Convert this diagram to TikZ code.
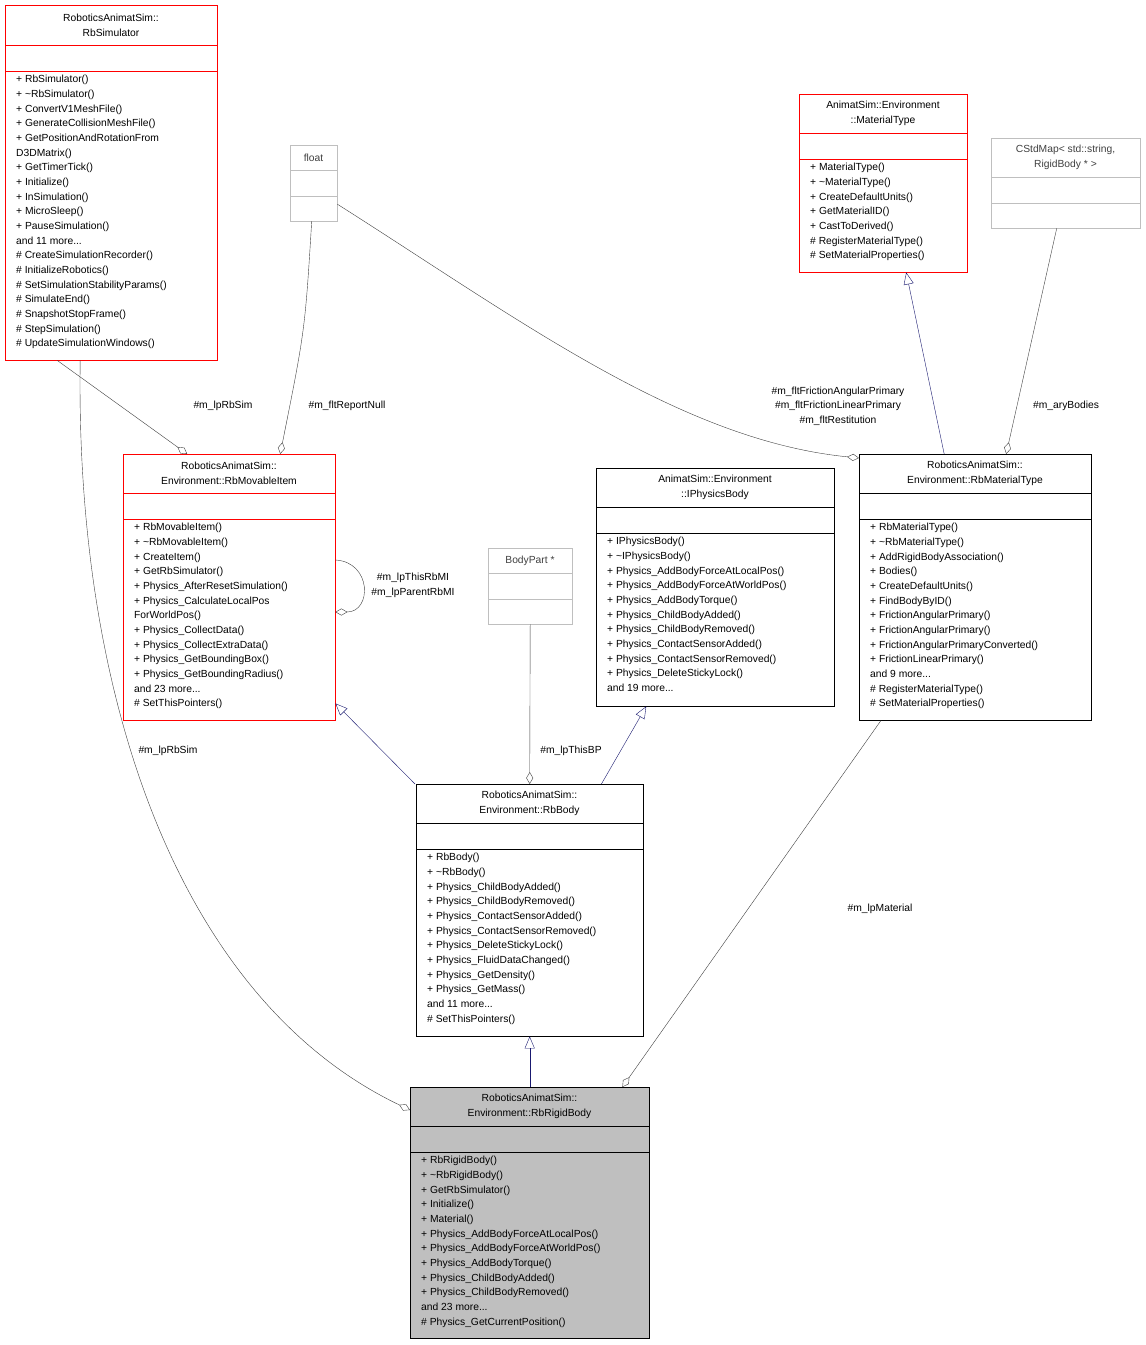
\documentclass[tikz,border=0pt]{standalone}
\usepackage{fontspec}
\setmainfont{Liberation Sans}
\usetikzlibrary{arrows.meta}
\definecolor{ln}{HTML}{404040}
\definecolor{nv}{HTML}{191970}
\tikzset{
 red/.style={draw=red},
 blk/.style={draw=black},
 gry/.style={draw=gray!50},
 grf/.style={draw=black,fill=gray!50},
 txt/.style={font=\fontsize{10.3}{14.67}\selectfont,inner sep=0pt},
 assoc/.style={draw=ln,-{Diamond[open,length=12pt,width=7pt]}},
 inh/.style={draw=nv,-{Triangle[open,length=12pt,width=10pt]}},
 lab/.style={txt,align=center,text=black},
}
\newcommand\cls[9]{%
 \node[#7,anchor=north west,inner sep=0pt,minimum width={(#4-#2)*1pt},minimum height={(#5-#3)*1pt}] (#1) at (#2,#3) {};
 \draw[#7] (#2,#6)--(#4,#6);
 \draw[#7] (#2,{#6+26})--(#4,{#6+26});
 \node[txt,align=center] at ({(#2+#4)/2},{(#3+#6)/2}) {#8};
 \node[txt,align=left,anchor=north west] at ({#2+11},{#6+26+4}) {#9};
}
\begin{document}
\begin{tikzpicture}[x=1pt,y=-1pt]
\useasboundingbox[fill=white] (0,0) rectangle (1146,1345);
\cls{sim}{5}{5}{217}{360}{45}{red}{RoboticsAnimatSim::\\RbSimulator}{+ RbSimulator()\\+ \textasciitilde RbSimulator()\\+ ConvertV1MeshFile()\\+ GenerateCollisionMeshFile()\\+ GetPositionAndRotationFrom\\D3DMatrix()\\+ GetTimerTick()\\+ Initialize()\\+ InSimulation()\\+ MicroSleep()\\+ PauseSimulation()\\and 11 more...\\\# CreateSimulationRecorder()\\\# InitializeRobotics()\\\# SetSimulationStabilityParams()\\\# SimulateEnd()\\\# SnapshotStopFrame()\\\# StepSimulation()\\\# UpdateSimulationWindows()}
\cls{flt}{290}{145}{337}{221}{170}{gry}{\color{ln}float}{}
\cls{mt}{799}{94}{967}{272}{133}{red}{AnimatSim::Environment\\::MaterialType}{+ MaterialType()\\+ \textasciitilde MaterialType()\\+ CreateDefaultUnits()\\+ GetMaterialID()\\+ CastToDerived()\\\# RegisterMaterialType()\\\# SetMaterialProperties()}
\cls{map}{991}{138}{1140}{228}{177}{gry}{\color{ln}CStdMap< std::string,\\\color{ln}RigidBody * >}{}
\cls{mov}{123}{454}{335}{720}{493}{red}{RoboticsAnimatSim::\\Environment::RbMovableItem}{+ RbMovableItem()\\+ \textasciitilde RbMovableItem()\\+ CreateItem()\\+ GetRbSimulator()\\+ Physics\_AfterResetSimulation()\\+ Physics\_CalculateLocalPos\\ForWorldPos()\\+ Physics\_CollectData()\\+ Physics\_CollectExtraData()\\+ Physics\_GetBoundingBox()\\+ Physics\_GetBoundingRadius()\\and 23 more...\\\# SetThisPointers()}
\cls{bp}{488}{548}{572}{624}{573}{gry}{\color{ln}BodyPart *}{}
\cls{ipb}{596}{468}{834}{706}{507}{blk}{AnimatSim::Environment\\::IPhysicsBody}{+ IPhysicsBody()\\+ \textasciitilde IPhysicsBody()\\+ Physics\_AddBodyForceAtLocalPos()\\+ Physics\_AddBodyForceAtWorldPos()\\+ Physics\_AddBodyTorque()\\+ Physics\_ChildBodyAdded()\\+ Physics\_ChildBodyRemoved()\\+ Physics\_ContactSensorAdded()\\+ Physics\_ContactSensorRemoved()\\+ Physics\_DeleteStickyLock()\\and 19 more...}
\cls{rmt}{859}{454}{1091}{720}{493}{blk}{RoboticsAnimatSim::\\Environment::RbMaterialType}{+ RbMaterialType()\\+ \textasciitilde RbMaterialType()\\+ AddRigidBodyAssociation()\\+ Bodies()\\+ CreateDefaultUnits()\\+ FindBodyByID()\\+ FrictionAngularPrimary()\\+ FrictionAngularPrimary()\\+ FrictionAngularPrimaryConverted()\\+ FrictionLinearPrimary()\\and 9 more...\\\# RegisterMaterialType()\\\# SetMaterialProperties()}
\cls{body}{416}{784}{643}{1036}{823}{blk}{RoboticsAnimatSim::\\Environment::RbBody}{+ RbBody()\\+ \textasciitilde RbBody()\\+ Physics\_ChildBodyAdded()\\+ Physics\_ChildBodyRemoved()\\+ Physics\_ContactSensorAdded()\\+ Physics\_ContactSensorRemoved()\\+ Physics\_DeleteStickyLock()\\+ Physics\_FluidDataChanged()\\+ Physics\_GetDensity()\\+ Physics\_GetMass()\\and 11 more...\\\# SetThisPointers()}
\cls{rb}{410}{1087}{649}{1338}{1126}{grf}{RoboticsAnimatSim::\\Environment::RbRigidBody}{+ RbRigidBody()\\+ \textasciitilde RbRigidBody()\\+ GetRbSimulator()\\+ Initialize()\\+ Material()\\+ Physics\_AddBodyForceAtLocalPos()\\+ Physics\_AddBodyForceAtWorldPos()\\+ Physics\_AddBodyTorque()\\+ Physics\_ChildBodyAdded()\\+ Physics\_ChildBodyRemoved()\\and 23 more...\\\# Physics\_GetCurrentPosition()}
% connectors
\draw[assoc] ([xshift=-54pt]sim.south) -- ([xshift=-42pt]mov.north);
\node[lab] at (223,406) {\#m\_lpRbSim};
\draw[assoc] ([xshift=-2pt]flt.south) .. controls (305,330) .. ([xshift=51pt]mov.north);
\node[lab] at (347,406) {\#m\_fltReportNull};
\draw[assoc] ([yshift=-21pt]flt.east) .. controls (520,320) and (680,440) .. ([yshift=-4pt]rmt.north west);
\node[lab] at (838,406) {\#m\_fltFrictionAngularPrimary\\\#m\_fltFrictionLinearPrimary\\\#m\_fltRestitution};
\draw[inh] ([xshift=-31pt]rmt.north) -- ([xshift=23pt]mt.south);
\draw[assoc] ([xshift=-9pt]map.south) -- ([xshift=31pt]rmt.north);
\node[lab] at (1066,406) {\#m\_aryBodies};
\draw[assoc] ([yshift=-106pt]mov.north east) .. controls (372,562) and (372,612) .. ([yshift=-158pt]mov.north east);
\node[lab] at (413,585) {\#m\_lpThisRbMI\\\#m\_lpParentRbMI};
\draw[inh] ([xshift=-1pt]body.north west) -- ([yshift=17pt]mov.south east);
\draw[inh] ([xshift=-42pt]body.north east) -- ([xshift=-69pt]ipb.south);
\draw[assoc] (bp.south) -- ([xshift=0pt]body.north);
\node[lab] at (571,751) {\#m\_lpThisBP};
\draw[inh] (rb.north) -- (body.south);
\draw[assoc] ([xshift=-31pt]sim.south) .. controls (75,700) and (180,1000) .. ([yshift=-23pt]rb.north west);
\node[lab] at (168,751) {\#m\_lpRbSim};
\draw[assoc] ([xshift=22pt]rmt.south west) -- ([xshift=-27pt]rb.north east);
\node[lab] at (880,909) {\#m\_lpMaterial};
\end{tikzpicture}
\end{document}
